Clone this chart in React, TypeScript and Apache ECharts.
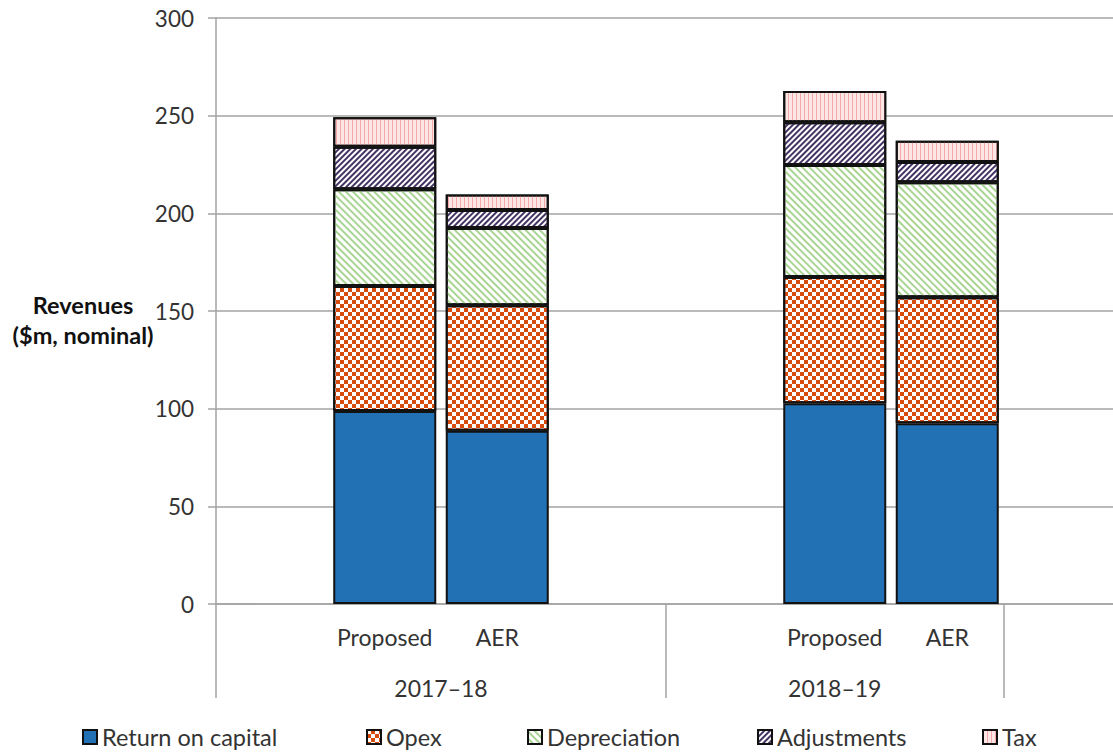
import React, { useEffect, useRef } from "react";
import * as echarts from "echarts";

const categories = ["", "Proposed", "AER", "", "", "Proposed", "AER", ""];
const returnOnCapital = [null, 98.8, 88.7, null, null, 102.8, 92.5, null];
const opex = [null, 64.0, 64.2, null, null, 64.6, 64.5, null];
const depreciation = [null, 49.5, 39.6, null, null, 57.4, 58.9, null];
const adjustments = [null, 21.8, 9.2, null, null, 21.8, 10.4, null];
const tax = [null, 15.1, 8.0, null, null, 16.0, 10.9, null];
const groups = ["2017–18", "2018–19"];
const groupBounds = [0, 4, 7];
const yMin = 0;
const yMax = 300;
const yStep = 50;
const yTitle = "Revenues\n($m, nominal)";

const FONT = "Lato";
const TEXT = "#333333";
const GRIDC = "#a3a3a3";

export default function App() {
  const ref = useRef<HTMLDivElement>(null);
  useEffect(() => {
    if (!ref.current) return;
    const chart = echarts.init(ref.current, null, { renderer: "svg" });
    const groupCenters = groups.map((_, i) => (groupBounds[i] + groupBounds[i + 1]) / 2);
    const border = { borderColor: "#111", borderWidth: 2 };
    const mk = (name: string, data: any[], color: string, decal: any) => ({
      name,
      type: "bar",
      stack: "total",
      data,
      barWidth: 103,
      xAxisIndex: 0,
      itemStyle: { color, ...border, decal },
      emphasis: { disabled: true },
    });
    const legendLefts = [82, 366, 527, 757, 982];
    const names = ["Return on capital", "Opex", "Depreciation", "Adjustments", "Tax"];
    chart.setOption({
      animation: false,
      grid: { left: 216, top: 18, width: 900, height: 586, outerBoundsMode: "none" },
      aria: { enabled: false },
      legend: names.map((n, i) => ({
        data: [n],
        left: legendLefts[i],
        top: 725,
        padding: 0,
        itemWidth: 14,
        itemHeight: 14,
        icon: "rect",
        selectedMode: false,
        textStyle: { fontFamily: FONT, fontSize: 23.5, color: TEXT },
      })),
      xAxis: [
        {
          type: "category",
          data: categories,
          axisLine: { show: true, lineStyle: { color: GRIDC, width: 1.5 } },
          axisTick: { show: false },
          axisLabel: { fontFamily: FONT, fontSize: 23, color: TEXT, margin: 21, interval: 0 },
          splitLine: { show: false },
        },
        {
          type: "value",
          min: 0,
          max: categories.length,
          position: "bottom",
          axisLine: { show: false },
          splitLine: { show: false },
          axisTick: {
            show: true,
            customValues: groupBounds,
            length: 94,
            lineStyle: { color: GRIDC, width: 1.5 },
          },
          axisLabel: {
            customValues: groupCenters,
            formatter: (v: number) => {
              const i = groupCenters.findIndex((c) => Math.abs(c - v) < 1e-6);
              return i >= 0 ? groups[i] : "";
            },
            fontFamily: FONT,
            fontSize: 23,
            color: TEXT,
            margin: 72,
          },
        },
      ],
      yAxis: {
        type: "value",
        min: yMin,
        max: yMax,
        interval: yStep,
        axisLine: { show: true, lineStyle: { color: GRIDC, width: 1.5 } },
        axisTick: { show: true, length: 8, lineStyle: { color: GRIDC, width: 1.5 } },
        axisLabel: { fontFamily: FONT, fontSize: 22.5, color: TEXT, margin: 22 },
        splitLine: { show: true, lineStyle: { color: GRIDC, width: 1.5 } },
      },
      graphic: [
        {
          type: "text",
          x: 83,
          y: 320,
          style: {
            text: yTitle,
            fontFamily: FONT,
            fontWeight: "bold",
            fontSize: 23.5,
            lineHeight: 30,
            fill: "#111",
            align: "center",
            verticalAlign: "middle",
          },
        },
      ],
      series: [
        mk(names[0], returnOnCapital, "#2371b5", null),
        mk(names[1], opex, "#ffffff", {
          symbol: "rect",
          symbolSize: 1,
          color: "#d84b0c",
          dashArrayX: [[4, 4], [0, 4, 4, 0]],
          dashArrayY: [4, 0],
        }),
        mk(names[2], depreciation, "#ffffff", {
          symbol: "rect",
          symbolSize: 1,
          color: "#a9d494",
          dashArrayX: [1, 0],
          dashArrayY: [2, 3],
          rotation: Math.PI / 4,
        }),
        mk(names[3], adjustments, "#ffffff", {
          symbol: "rect",
          symbolSize: 1,
          color: "#433363",
          dashArrayX: [1, 0],
          dashArrayY: [2, 2],
          rotation: -Math.PI / 4,
        }),
        mk(names[4], tax, "#fde6e6", {
          symbol: "rect",
          symbolSize: 1,
          color: "#f3a9a9",
          dashArrayX: [1, 3],
          dashArrayY: [4, 0],
        }),
      ],
    });
    return () => chart.dispose();
  }, []);
  return (
    <div
      ref={ref}
      style={{ position: "absolute", left: 0, top: 0, width: 1113, height: 754, background: "#fff" }}
    />
  );
}
